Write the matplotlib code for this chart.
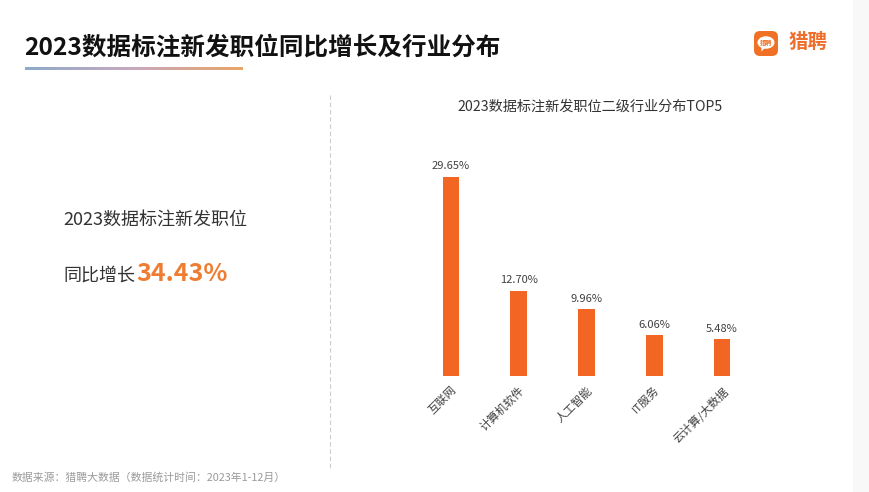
import matplotlib
matplotlib.use("Agg")
import matplotlib.pyplot as plt
import numpy as np
from matplotlib.lines import Line2D
from matplotlib.patches import FancyBboxPatch, Rectangle, Ellipse, Polygon
from matplotlib.colors import LinearSegmentedColormap

plt.rcParams['font.family'] = ['Noto Sans CJK SC', 'DejaVu Sans']

# ---- data ----
categories = ['互联网', '计算机软件', '人工智能', 'IT服务', '云计算/大数据']
shares = [29.65, 12.70, 9.96, 6.06, 5.48]
growth_label = '34.43%'
title = '2023数据标注新发职位同比增长及行业分布'
chart_title = '2023数据标注新发职位二级行业分布TOP5'
left_line1 = '2023数据标注新发职位'
left_line2 = '同比增长'
footer = '数据来源：猎聘大数据（数据统计时间：2023年1-12月）'
brand = '猎聘'

W, H = 870, 492
fig = plt.figure(figsize=(W / 100, H / 100), dpi=100)
fig.patch.set_facecolor('white')

def fx(x):
    return x / W

def fy(y):
    return 1 - y / H

ORANGE = '#F26522'
TXT_ORANGE = '#EE7D31'

# right light strip
fig.patches.append(Rectangle((fx(853), 0), fx(17), 1, transform=fig.transFigure,
                             color='#f8f8f8', zorder=0))

# main title
fig.text(fx(24), fy(48), title, fontsize=17.7, fontweight='bold', color='#111111',
         va='center', ha='left')

# gradient underline
gax = fig.add_axes([fx(25), fy(70), fx(218), 3 / H])
cmap = LinearSegmentedColormap.from_list('g', ['#8eaacb', '#c7a9bd', '#eaa466'])
gax.imshow(np.linspace(0, 1, 256)[None, :], cmap=cmap, aspect='auto')
gax.axis('off')

# logo
lax = fig.add_axes([fx(753), fy(57), fx(26), 27 / H])
lax.set_xlim(0, 26)
lax.set_ylim(0, 27)
lax.axis('off')
lax.add_patch(FancyBboxPatch((1, 1), 24, 25, boxstyle='round,pad=0,rounding_size=6',
                             fc='#F07126', ec='none'))
lax.add_patch(Ellipse((13, 14.5), 17, 12.5, fc='white', ec='none'))
lax.add_patch(Polygon([[8.5, 10], [12, 9.5], [8.5, 5.5]], closed=True, fc='white', ec='none'))
lax.text(13, 14.5, brand, fontsize=4.5, color='#F07126', ha='center', va='center',
         fontweight='bold')
fig.text(fx(789), fy(43), brand, fontsize=14, color='#EE6F2D', fontweight='bold',
         va='center', ha='left')

# left panel texts
fig.text(fx(63), fy(220), left_line1, fontsize=13, color='#333333', va='center', ha='left')
fig.text(fx(63), fy(281), left_line2, fontsize=13, color='#333333', va='baseline', ha='left')
fig.text(fx(136), fy(281), growth_label, fontsize=18, color=TXT_ORANGE, fontweight='bold',
         va='baseline', ha='left')

# dashed separator
fig.add_artist(Line2D([fx(330), fx(330)], [fy(95), fy(468)], transform=fig.transFigure,
                      color='#cccccc', lw=0.8, ls=(0, (4, 2.5))))

# chart title
fig.text(fx(590), fy(107), chart_title, fontsize=10.2, color='#333333', ha='center', va='center')

# bar chart
step = 67.75
ax_left = 451 - 0.5 * step
ax = fig.add_axes([fx(ax_left), fy(376), fx(5 * step), 226 / H])
x = np.arange(len(categories))
ax.bar(x, shares, width=0.25, color=ORANGE)
ax.set_xlim(-0.5, 4.5)
ax.set_ylim(0, 226 / 6.71)
for i, v in enumerate(shares):
    ax.annotate(f'{v:.2f}%', (i, v), xytext=(0, 4), textcoords='offset points',
                ha='center', va='bottom', fontsize=8, color='#404040')
ax.set_xticks(x)
ax.set_xticklabels(categories, rotation=45, ha='right', rotation_mode='anchor',
                   fontsize=8.2, color='#404040')
ax.tick_params(axis='x', length=0, pad=6)
ax.set_yticks([])
for s in ax.spines.values():
    s.set_visible(False)
ax.patch.set_alpha(0)

# footer
fig.text(fx(12), fy(478), footer, fontsize=7.8, color='#9a9a9a', ha='left', va='center')

fig.savefig('out.png', dpi=100)
